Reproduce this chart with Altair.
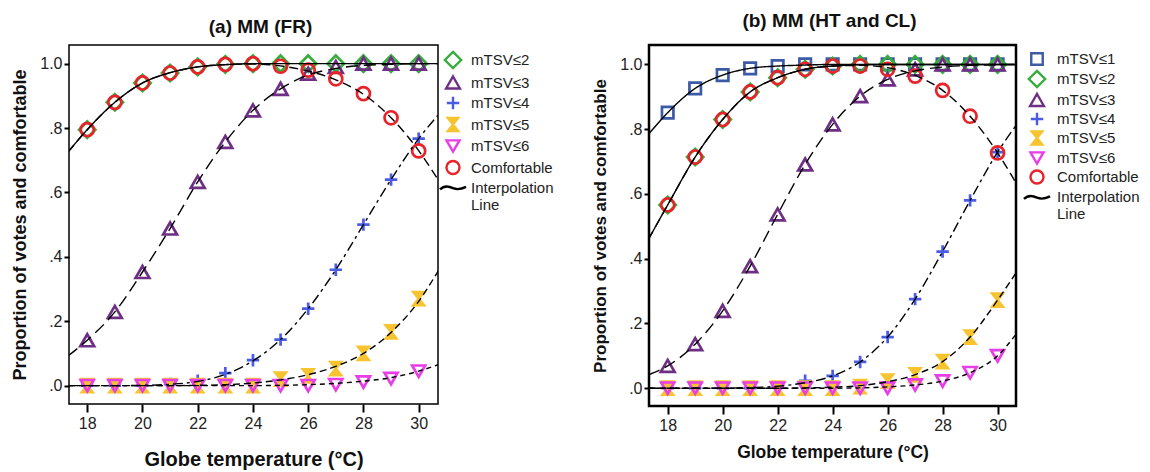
import altair as alt
import pandas as pd

# ---------------- data ----------------
X_POINTS = [18, 19, 20, 21, 22, 23, 24, 25, 26, 27, 28, 29, 30]
X_CURVE = [17.3, 18, 19, 20, 21, 22, 23, 24, 25, 26, 27, 28, 29, 30, 30.7]

# (a) MM (FR) - markers
A_LE2 = [0.795, 0.88, 0.94, 0.971, 0.99, 0.998, 1.0, 1.0, 1.0, 1.0, 1.0, 1.0, 1.0]
A_LE3 = [0.141, 0.229, 0.353, 0.488, 0.633, 0.757, 0.855, 0.922, 0.969, 0.99, 1.0, 1.0, 1.0]
A_LE4 = [0.0, 0.0, 0.0, 0.005, 0.015, 0.039, 0.079, 0.143, 0.239, 0.36, 0.5, 0.64, 0.767]
A_LE5 = [0.0, 0.0, 0.0, 0.0, 0.0, 0.0, 0.0, 0.02, 0.03, 0.053, 0.1, 0.167, 0.27]
A_LE6 = [0.0, 0.0, 0.0, 0.0, 0.0, 0.0, 0.0, 0.0, 0.0, 0.003, 0.011, 0.022, 0.045]
A_CF = [0.795, 0.88, 0.94, 0.971, 0.99, 0.998, 1.0, 0.992, 0.98, 0.953, 0.907, 0.832, 0.729]
# (a) interpolation lines
AC_LE2 = [0.725, 0.795, 0.88, 0.94, 0.972, 0.99, 0.997, 1.0, 1.0, 1.0, 1.0, 1.0, 1.0, 1.0, 1.0]
AC_LE3 = [0.092, 0.141, 0.229, 0.353, 0.488, 0.633, 0.757, 0.855, 0.922, 0.965, 0.985, 0.995, 0.998, 1.0, 1.0]
AC_LE4 = [0.0, 0.0, 0.0, 0.001, 0.004, 0.013, 0.035, 0.077, 0.143, 0.239, 0.36, 0.5, 0.64, 0.767, 0.84]
AC_LE5 = [0.0, 0.0, 0.0, 0.0, 0.0, 0.001, 0.003, 0.008, 0.018, 0.034, 0.06, 0.1, 0.165, 0.262, 0.355]
AC_LE6 = [0.0, 0.0, 0.0, 0.0, 0.0, 0.0, 0.0, 0.0, 0.001, 0.003, 0.007, 0.014, 0.025, 0.045, 0.065]
AC_CF = [0.725, 0.795, 0.88, 0.94, 0.972, 0.99, 0.997, 0.999, 0.993, 0.977, 0.95, 0.905, 0.832, 0.73, 0.64]

# (b) MM (HT and CL) - markers
B_LE1 = [0.851, 0.926, 0.967, 0.988, 0.995, 1.0, 1.0, 1.0, 1.0, 1.0, 1.0, 1.0, 1.0]
B_LE2 = [0.566, 0.714, 0.83, 0.915, 0.959, 0.985, 0.995, 1.0, 1.0, 1.0, 1.0, 1.0, 1.0]
B_LE3 = [0.069, 0.136, 0.239, 0.377, 0.537, 0.691, 0.815, 0.902, 0.954, 0.985, 1.0, 1.0, 1.0]
B_LE4 = [0.0, 0.0, 0.0, 0.0, 0.003, 0.023, 0.038, 0.081, 0.158, 0.275, 0.422, 0.58, 0.729]
B_LE5 = [0.0, 0.0, 0.0, 0.0, 0.0, 0.0, 0.0, 0.005, 0.022, 0.041, 0.082, 0.158, 0.272]
B_LE6 = [0.0, 0.0, 0.0, 0.0, 0.0, 0.0, 0.0, 0.0, 0.0, 0.01, 0.022, 0.048, 0.1]
B_CF = [0.566, 0.714, 0.83, 0.915, 0.959, 0.985, 0.995, 0.995, 0.985, 0.964, 0.92, 0.84, 0.727]
# (b) interpolation lines
BC_LE1 = [0.784, 0.851, 0.926, 0.967, 0.988, 0.995, 0.998, 1.0, 1.0, 1.0, 1.0, 1.0, 1.0, 1.0, 1.0]
BC_LE2 = [0.46, 0.566, 0.714, 0.83, 0.915, 0.959, 0.985, 0.995, 0.999, 1.0, 1.0, 1.0, 1.0, 1.0, 1.0]
BC_LE3 = [0.041, 0.069, 0.136, 0.239, 0.377, 0.537, 0.691, 0.815, 0.902, 0.954, 0.98, 0.992, 0.997, 0.999, 1.0]
BC_LE4 = [0.0, 0.0, 0.0, 0.0, 0.002, 0.006, 0.017, 0.038, 0.081, 0.158, 0.275, 0.422, 0.58, 0.729, 0.815]
BC_LE5 = [0.0, 0.0, 0.0, 0.0, 0.0, 0.0, 0.001, 0.003, 0.008, 0.02, 0.042, 0.082, 0.158, 0.272, 0.36]
BC_LE6 = [0.0, 0.0, 0.0, 0.0, 0.0, 0.0, 0.0, 0.0, 0.001, 0.004, 0.01, 0.022, 0.048, 0.1, 0.17]
BC_CF = [0.46, 0.566, 0.714, 0.83, 0.915, 0.959, 0.985, 0.995, 0.997, 0.99, 0.966, 0.92, 0.84, 0.727, 0.63]

Y_TICKS = [0.0, 0.2, 0.4, 0.6, 0.8, 1.0]
X_TICKS = [18, 20, 22, 24, 26, 28, 30]

INTERP = "Interpolation Line"

# ---------------- styles (all symbols drawn at one size; shapes scaled in their paths) ----------------
STYLE = {
    "mTSV≤1": dict(shape="M-0.88,-0.88H0.88V0.88H-0.88Z", stroke="#3d5aa6", fill="transparent", dash=[1, 0]),
    "mTSV≤2": dict(shape="M0,-1.25L1.25,0L0,1.25L-1.25,0Z", stroke="#36ad3c", fill="transparent", dash=[1, 0]),
    "mTSV≤3": dict(shape="M0,-0.92L1.06,0.92L-1.06,0.92Z", stroke="#6e2f84", fill="transparent", dash=[12, 6]),
    "mTSV≤4": dict(shape="M-0.95,0H0.95M0,-0.95V0.95", stroke="#4a5ce6", fill="transparent", dash=[10, 4, 3, 4]),
    "mTSV≤5": dict(shape="M-0.8,-1H0.8L-0.8,1H0.8Z", stroke="#f7c431", fill="#f7c431", dash=[7, 4]),
    "mTSV≤6": dict(shape="M0,0.87L1,-0.87L-1,-0.87Z", stroke="#e83ee6", fill="transparent", dash=[5, 4]),
    "Comfortable": dict(shape="circle", stroke="#e8232a", fill="transparent", dash=[9, 5]),
    INTERP: dict(shape="M-2.0,0.3C-1.3,-0.4 -0.6,-0.2 0,0.1C0.6,0.35 1.3,0.25 2.0,-0.1",
                 stroke="black", fill="transparent", dash=[1, 0]),
}

FONT = "Liberation Sans"
SYM = 170


def long_frame(names, arrays, xs):
    rows = []
    for name, arr in zip(names, arrays):
        for x, y in zip(xs, arr):
            rows.append({"series": name, "x": x, "y": y})
    return pd.DataFrame(rows)


def panel(title, names, pts, crv, xdom, ydom, lx, ly, loff, rowpad, view_w,
          title_off, title_dx, xt_size, xt_pad, yt_size, width, height):
    dom = names + [INTERP]
    pdf = long_frame(names, pts, X_POINTS)
    cdf = long_frame(names, crv, X_CURVE)

    legend = alt.Legend(
        title=None, orient="none", legendX=lx, legendY=ly, padding=0,
        labelFontSize=15, labelFont=FONT, labelColor="#222", labelOffset=loff,
        rowPadding=rowpad, symbolStrokeWidth=2.4, symbolSize=SYM, labelLimit=300,
        labelExpr="datum.label == 'Interpolation Line' ? ['Interpolation', 'Line'] : datum.label",
    )

    xenc = alt.X("x:Q", scale=alt.Scale(domain=xdom, nice=False, zero=False),
                 axis=alt.Axis(values=X_TICKS, format="d", title="Globe temperature (°C)",
                               titleFontSize=xt_size, titleFontWeight="bold", titleFont=FONT,
                               titleColor="#111", titlePadding=xt_pad,
                               labelFontSize=16, labelFont=FONT, labelColor="#222",
                               labelPadding=3, tickSize=8, tickWidth=2, tickColor="black",
                               domain=False, grid=False))
    yenc = alt.Y("y:Q", scale=alt.Scale(domain=ydom, nice=False, zero=False),
                 axis=alt.Axis(values=Y_TICKS, title="Proportion of votes and comfortable",
                               labelExpr="replace(format(datum.value, '.1f'), '0.', '.')",
                               titleFontSize=yt_size, titleFontWeight="bold", titleFont=FONT,
                               titleColor="#111", titlePadding=10,
                               labelFontSize=16, labelFont=FONT, labelColor="#222",
                               labelPadding=2, tickSize=5, tickWidth=2, tickColor="black",
                               domain=False, grid=False))

    lines = alt.Chart(cdf).mark_line(color="black", strokeWidth=1.4, clip=True,
                                     interpolate="monotone").encode(
        x=xenc, y=yenc,
        strokeDash=alt.StrokeDash("series:N", scale=alt.Scale(
            domain=names, range=[STYLE[n]["dash"] for n in names]), legend=None),
    )

    points = alt.Chart(pdf).mark_point(strokeWidth=2.7, opacity=1, size=SYM).encode(
        x=xenc, y=yenc,
        shape=alt.Shape("series:N", scale=alt.Scale(domain=dom, range=[STYLE[n]["shape"] for n in dom]), legend=legend),
        stroke=alt.Stroke("series:N", scale=alt.Scale(domain=dom, range=[STYLE[n]["stroke"] for n in dom]), legend=legend),
        fill=alt.Fill("series:N", scale=alt.Scale(domain=dom, range=[STYLE[n]["fill"] for n in dom]), legend=legend),
    )

    return alt.layer(points, lines).properties(
        width=width, height=height,
        title=alt.TitleParams(title, fontSize=19, fontWeight="bold", font=FONT, color="#111",
                              anchor="middle", offset=title_off, dx=title_dx),
        view=alt.ViewBackground(stroke="black", strokeWidth=view_w, fill="white"),
    )


left = panel("(a) MM  (FR)",
             ["mTSV≤2", "mTSV≤3", "mTSV≤4", "mTSV≤5", "mTSV≤6", "Comfortable"],
             [A_LE2, A_LE3, A_LE4, A_LE5, A_LE6, A_CF],
             [AC_LE2, AC_LE3, AC_LE4, AC_LE5, AC_LE6, AC_CF],
             [17.34, 30.7], [-0.057, 1.058], 376, 7, 10, -1.5, 1.5,
             8, 7, 20, 18, 18, 369, 359)

right = panel("(b) MM  (HT and CL)",
              ["mTSV≤1", "mTSV≤2", "mTSV≤3", "mTSV≤4", "mTSV≤5", "mTSV≤6", "Comfortable"],
              [B_LE1, B_LE2, B_LE3, B_LE4, B_LE5, B_LE6, B_CF],
              [BC_LE1, BC_LE2, BC_LE3, BC_LE4, BC_LE5, BC_LE6, BC_CF],
              [17.32, 30.67], [-0.055, 1.06], 380, 6, 12, -4, 2.5,
              14, -3, 17.5, 10, 17, 367, 361)

chart = alt.hconcat(left, right, spacing=211, bounds="flush").resolve_scale(
    x="independent", y="independent", shape="independent", stroke="independent",
    fill="independent", strokeDash="independent",
).resolve_legend(
    shape="independent", stroke="independent", fill="independent",
).properties(
    padding={"left": 11, "top": 10, "right": 0, "bottom": 0},
    background="white",
).configure(font=FONT)

chart.save("out.html", embed_options={"renderer": "svg", "actions": False})
